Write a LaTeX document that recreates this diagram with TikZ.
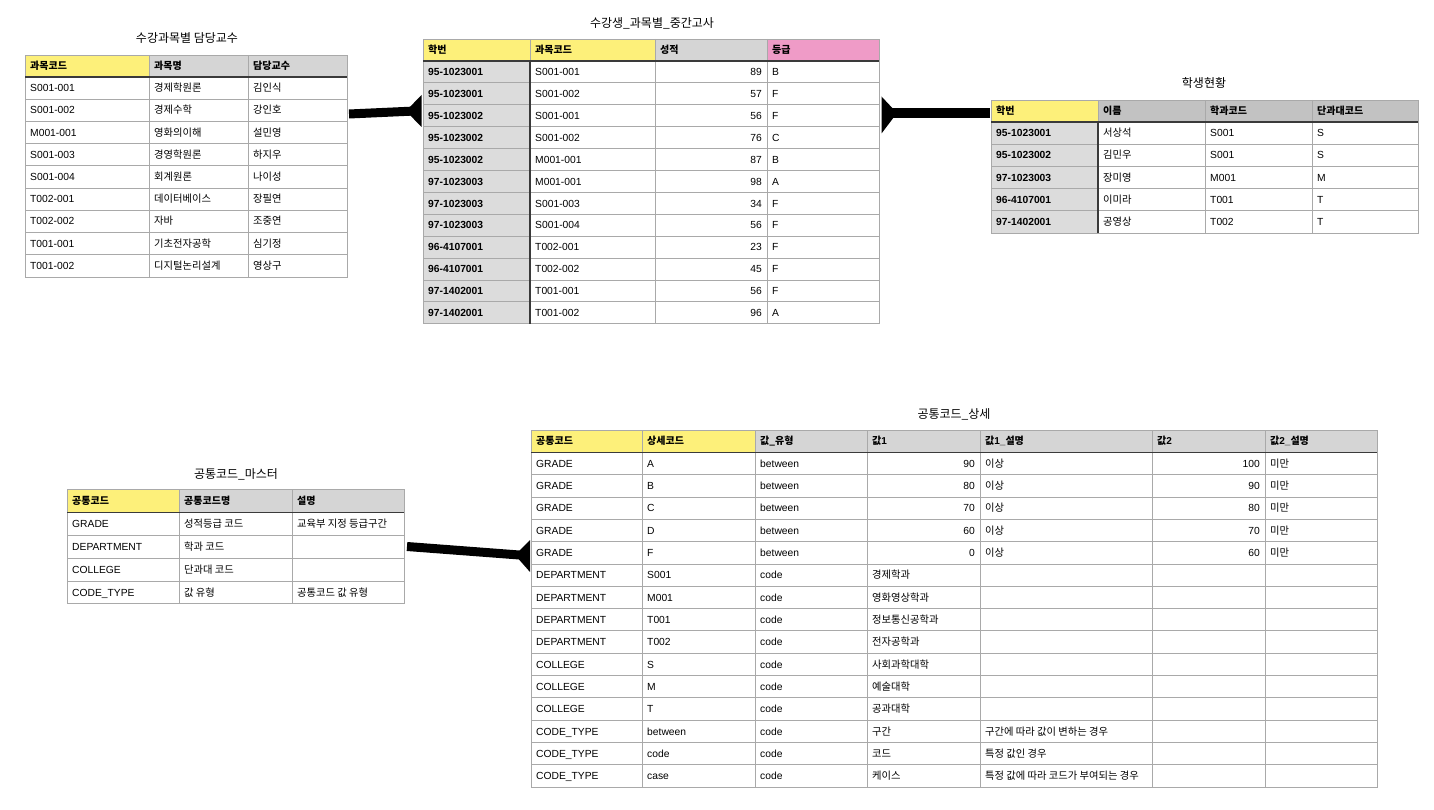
\documentclass[tikz,border=0pt]{standalone}
\usepackage{fontspec}
\setmainfont{Liberation Sans}
\newfontfamily\latinfont{Liberation Sans}
\newfontfamily\kr{Noto Sans CJK KR}
% Hangul in Noto Sans CJK KR, everything else in Liberation Sans
\XeTeXinterchartokenstate=1
\newXeTeXintercharclass\hangulclass
\count255="AC00
\loop\ifnum\count255<"D7A4
  \XeTeXcharclass\count255=\hangulclass
  \advance\count255 by 1
\repeat
\XeTeXinterchartoks 0 \hangulclass={\kr}
\XeTeXinterchartoks 4095 \hangulclass={\kr}
\XeTeXinterchartoks \hangulclass 0={\latinfont}
\definecolor{hyellow}{HTML}{FDF07A}
\definecolor{hgray}{HTML}{D5D5D5}
\definecolor{hgraydark}{HTML}{C2C2C2}
\definecolor{hpink}{HTML}{EF9BC7}
\definecolor{idgray}{HTML}{DCDCDC}
\definecolor{gridgray}{HTML}{A9A9A9}
\definecolor{ruledark}{HTML}{3A3A3A}
\tikzset{
  cellline/.style={draw=gridgray, line width=0.9pt},
  headline/.style={draw=ruledark, line width=1.3pt},
  txt/.style={anchor=west, inner sep=0pt, text height=7.4pt, text depth=0pt, font=\fontsize{10.3}{12}\selectfont},
  num/.style={txt, anchor=east},
  hd/.style={txt, font=\fontsize{10}{12}\selectfont\bfseries},
  idcell/.style={hd, font=\fontsize{10.3}{12}\selectfont\bfseries},
  tabtitle/.style={inner sep=0pt, font=\fontsize{12}{14}\selectfont},
  link/.style={line width=9pt},
}
\begin{document}
\begin{tikzpicture}[x=1pt,y=-1pt]
\useasboundingbox (0,0) rectangle (1434,810);

% 수강과목별 담당교수
\node[tabtitle] (profT) at (187,38) {수강과목별 담당교수};
\fill[hyellow] (25,55) rectangle (149,77);
\fill[hgray] (149,55) rectangle (347,77);
\foreach \i in {1,...,8} \draw[cellline] (25,{77+22.2*\i}) -- (347,{77+22.2*\i});
\foreach \x in {149,248} \draw[cellline] (\x,55) -- (\x,277);
\draw[cellline] (25,55) rectangle (347,277);
\draw[headline] (25,77) -- (347,77);
\node[hd] (prof-h1) at (30,66) {과목코드};
\node[hd] (prof-h2) at (154,66) {과목명};
\node[hd] (prof-h3) at (253,66) {담당교수};
\foreach \a/\b/\c [count=\i] in {S001-001/경제학원론/김인식, S001-002/경제수학/강인호,
  M001-001/영화의이해/설민영, S001-003/경영학원론/하지우, S001-004/회계원론/나이성,
  T002-001/데이터베이스/장필연, T002-002/자바/조중연, T001-001/기초전자공학/심기정,
  T001-002/디지털논리설계/영상구}{
  \node[txt] (prof-\i-1) at (30,{65.9+22.2*\i}) {\a};
  \node[txt] (prof-\i-2) at (154,{65.9+22.2*\i}) {\b};
  \node[txt] (prof-\i-3) at (253,{65.9+22.2*\i}) {\c};
}

% 수강생_과목별_중간고사
\node[tabtitle] (examT) at (652,23) {수강생\_과목별\_중간고사};
\fill[hyellow] (423,39) rectangle (655,61);
\fill[hgray] (655,39) rectangle (767,61);
\fill[hpink] (767,39) rectangle (879,61);
\fill[idgray] (423,61) rectangle (530,323.8);
\foreach \i in {1,...,11} \draw[cellline] (423,{61+21.9*\i}) -- (879,{61+21.9*\i});
\foreach \x in {530,655,767} \draw[cellline] (\x,39) -- (\x,323.8);
\draw[cellline] (423,39) rectangle (879,323.8);
\draw[headline] (530,61) -- (530,323.8);
\draw[headline] (423,61) -- (879,61);
\node[hd] (exam-h1) at (428,50) {학번};
\node[hd] (exam-h2) at (535,50) {과목코드};
\node[hd] (exam-h3) at (660,50) {성적};
\node[hd] (exam-h4) at (772,50) {등급};
\foreach \a/\b/\c/\d [count=\i] in {95-1023001/S001-001/89/B, 95-1023001/S001-002/57/F,
  95-1023002/S001-001/56/F, 95-1023002/S001-002/76/C, 95-1023002/M001-001/87/B,
  97-1023003/M001-001/98/A, 97-1023003/S001-003/34/F, 97-1023003/S001-004/56/F,
  96-4107001/T002-001/23/F, 96-4107001/T002-002/45/F, 97-1402001/T001-001/56/F,
  97-1402001/T001-002/96/A}{
  \node[idcell] (exam-\i-1) at (428,{50.05+21.9*\i}) {\a};
  \node[txt] (exam-\i-2) at (535,{50.05+21.9*\i}) {\b};
  \node[num] (exam-\i-3) at (762,{50.05+21.9*\i}) {\c};
  \node[txt] (exam-\i-4) at (772,{50.05+21.9*\i}) {\d};
}

% 학생현황
\node[tabtitle] (stuT) at (1204,83) {학생현황};
\fill[hyellow] (991,100) rectangle (1098,122);
\fill[hgraydark] (1098,100) rectangle (1418,122);
\fill[idgray] (991,122) rectangle (1098,233);
\foreach \i in {1,...,4} \draw[cellline] (991,{122+22.2*\i}) -- (1418,{122+22.2*\i});
\foreach \x in {1098,1205,1312} \draw[cellline] (\x,100) -- (\x,233);
\draw[cellline] (991,100) rectangle (1418,233);
\draw[headline] (1098,122) -- (1098,233);
\draw[headline] (991,122) -- (1418,122);
\node[hd] (stu-h1) at (996,111) {학번};
\node[hd] (stu-h2) at (1103,111) {이름};
\node[hd] (stu-h3) at (1210,111) {학과코드};
\node[hd] (stu-h4) at (1317,111) {단과대코드};
\foreach \a/\b/\c/\d [count=\i] in {95-1023001/서상석/S001/S, 95-1023002/김민우/S001/S,
  97-1023003/장미영/M001/M, 96-4107001/이미라/T001/T, 97-1402001/공영상/T002/T}{
  \node[idcell] (stu-\i-1) at (996,{110.9+22.2*\i}) {\a};
  \node[txt] (stu-\i-2) at (1103,{110.9+22.2*\i}) {\b};
  \node[txt] (stu-\i-3) at (1210,{110.9+22.2*\i}) {\c};
  \node[txt] (stu-\i-4) at (1317,{110.9+22.2*\i}) {\d};
}

% 공통코드_마스터
\node[tabtitle] (mstT) at (236,474) {공통코드\_마스터};
\fill[hyellow] (67,489.5) rectangle (179,512.3);
\fill[hgray] (179,489.5) rectangle (404,512.3);
\foreach \i in {1,...,3} \draw[cellline] (67,{512.3+22.9*\i}) -- (404,{512.3+22.9*\i});
\foreach \x in {179,292} \draw[cellline] (\x,489.5) -- (\x,603.9);
\draw[cellline] (67,489.5) rectangle (404,603.9);
\draw[headline] (67,512.3) -- (404,512.3);
\node[hd] (mst-h1) at (72,501) {공통코드};
\node[hd] (mst-h2) at (184,501) {공통코드명};
\node[hd] (mst-h3) at (297,501) {설명};
\foreach \a/\b [count=\i] in {GRADE/성적등급 코드, DEPARTMENT/학과 코드,
  COLLEGE/단과대 코드, CODE\_TYPE/값 유형}{
  \node[txt] (mst-\i-1) at (72,{500.85+22.9*\i}) {\a};
  \node[txt] (mst-\i-2) at (184,{500.85+22.9*\i}) {\b};
}
\node[txt] (mst-1-3) at (297,523.75) {교육부 지정 등급구간};
\node[txt] (mst-4-3) at (297,592.45) {공통코드 값 유형};

% 공통코드_상세
\node[tabtitle] (dtlT) at (954,414) {공통코드\_상세};
\fill[hyellow] (531,430) rectangle (755,452.3);
\fill[hgray] (755,430) rectangle (1377,452.3);
\foreach \i in {1,...,14} \draw[cellline] (531,{452.3+22.33*\i}) -- (1377,{452.3+22.33*\i});
\foreach \x in {642,755,867,980,1152,1265} \draw[cellline] (\x,430) -- (\x,787.3);
\draw[cellline] (531,430) rectangle (1377,787.3);
\draw[headline] (531,452.3) -- (1377,452.3);
\node[hd] (dtl-h1) at (536,441) {공통코드};
\node[hd] (dtl-h2) at (647,441) {상세코드};
\node[hd] (dtl-h3) at (760,441) {값\_유형};
\node[hd] (dtl-h4) at (872,441) {값1};
\node[hd] (dtl-h5) at (985,441) {값1\_설명};
\node[hd] (dtl-h6) at (1157,441) {값2};
\node[hd] (dtl-h7) at (1270,441) {값2\_설명};
\foreach \b/\c/\e [count=\i] in {A/90/100, B/80/90, C/70/80, D/60/70, F/0/60}{
  \node[txt] (dtl-\i-1) at (536,{441.13+22.33*\i}) {GRADE};
  \node[txt] (dtl-\i-2) at (647,{441.13+22.33*\i}) {\b};
  \node[txt] (dtl-\i-3) at (760,{441.13+22.33*\i}) {between};
  \node[num] (dtl-\i-4) at (975,{441.13+22.33*\i}) {\c};
  \node[txt] (dtl-\i-5) at (985,{441.13+22.33*\i}) {이상};
  \node[num] (dtl-\i-6) at (1260,{441.13+22.33*\i}) {\e};
  \node[txt] (dtl-\i-7) at (1270,{441.13+22.33*\i}) {미만};
}
\foreach \a/\b/\d [count=\j from 6] in {DEPARTMENT/S001/경제학과, DEPARTMENT/M001/영화영상학과,
  DEPARTMENT/T001/정보통신공학과, DEPARTMENT/T002/전자공학과, COLLEGE/S/사회과학대학,
  COLLEGE/M/예술대학, COLLEGE/T/공과대학}{
  \node[txt] (dtl-\j-1) at (536,{441.13+22.33*\j}) {\a};
  \node[txt] (dtl-\j-2) at (647,{441.13+22.33*\j}) {\b};
  \node[txt] (dtl-\j-3) at (760,{441.13+22.33*\j}) {code};
  \node[txt] (dtl-\j-4) at (872,{441.13+22.33*\j}) {\d};
}
\foreach \b/\d/\e [count=\j from 13] in {between/구간/구간에 따라 값이 변하는 경우,
  code/코드/특정 값인 경우, case/케이스/특정 값에 따라 코드가 부여되는 경우}{
  \node[txt] (dtl-\j-1) at (536,{441.13+22.33*\j}) {CODE\_TYPE};
  \node[txt] (dtl-\j-2) at (647,{441.13+22.33*\j}) {\b};
  \node[txt] (dtl-\j-3) at (760,{441.13+22.33*\j}) {code};
  \node[txt] (dtl-\j-4) at (872,{441.13+22.33*\j}) {\d};
  \node[txt] (dtl-\j-5) at (985,{441.13+22.33*\j}) {\e};
}

% connectors
\coordinate (j1a) at (349,114);
\coordinate (j1b) at (415,111);
\draw[link] (j1a) -- (j1b);
\fill (421.5,95) -- (421.5,127) -- (406,111) -- cycle;
\coordinate (j2a) at (990,113);
\coordinate (j2b) at (890,113);
\draw[link,line width=10pt] (j2a) -- (j2b);
\fill (881.5,96.5) -- (881.5,133.5) -- (897,113) -- cycle;
\coordinate (j3a) at (407,546.5);
\coordinate (j3b) at (522,555.2);
\draw[link] (j3a) -- (j3b);
\fill (530,540) -- (530,572) -- (515,555) -- cycle;
\end{tikzpicture}
\end{document}
